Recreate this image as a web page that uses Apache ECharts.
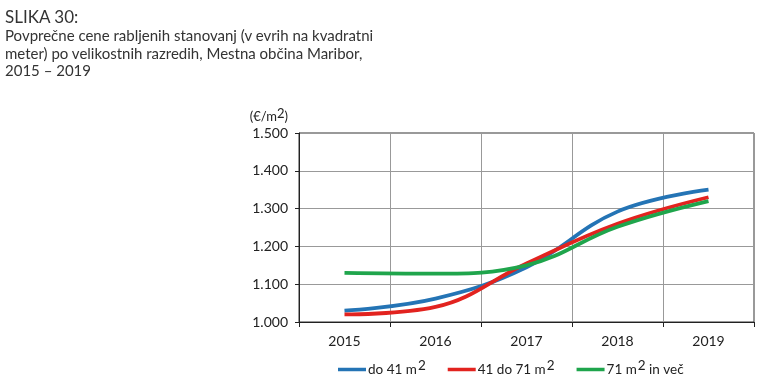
<!DOCTYPE html>
<html>
<head>
<meta charset="utf-8">
<script src="https://cdn.jsdelivr.net/npm/echarts@6/dist/echarts.min.js"></script>
<style>
html,body{margin:0;padding:0;background:#fff;}
#t{position:absolute;left:5px;top:6px;font-family:Lato,"Open Sans",sans-serif;color:#333;}
#t .h{font-size:17px;line-height:21px;}
#t .s{font-size:15px;line-height:17.5px;}
#c{position:absolute;left:0;top:0;width:768px;height:390px;}
</style>
</head>
<body>
<div id="c"></div>
<div id="t"><div class="h">SLIKA 30:</div><div class="s">Povprečne cene rabljenih stanovanj (v evrih na kvadratni<br>meter) po velikostnih razredih, Mestna občina Maribor,<br>2015 – 2019</div></div>
<script>
const years = ['2015','2016','2017','2018','2019'];
const seriesNames = ['do 41 m2','41 do 71 m2','71 m2 in več'];
const small = [1030, 1062, 1145, 1292, 1350];
const medium = [1020, 1040, 1155, 1260, 1330];
const large = [1130, 1128, 1150, 1252, 1320];
const colors = ['#2474b5','#e2231f','#1fa54c'];

const chart = echarts.init(document.getElementById('c'));
const fmtNum = v => (v/1000).toFixed(3);
const supFmt = name => {
  const parts = name.split('m2');
  return '{a|' + parts[0] + 'm}{s|2}' + (parts[1] ? '{a|' + parts[1] + '}' : '');
};
chart.setOption({
  animation:false,
  color: colors,
  grid:{left:299,right:14,top:133,bottom:68,show:true,borderColor:'#333',borderWidth:1},
  legend:{
    bottom:5,left:333,icon:'rect',itemWidth:28,itemHeight:3.5,itemGap:22,
    formatter: supFmt,
    textStyle:{padding:[0,0,0,-3],rich:{
      a:{fontFamily:'Lato',fontSize:13.5,color:'#222',lineHeight:18},
      s:{fontFamily:'Lato',fontSize:13.5,color:'#222',lineHeight:18,padding:[0,0,7,1]}
    }}
  },
  xAxis:{
    type:'category',data:years,boundaryGap:true,
    axisLine:{lineStyle:{color:'#222',width:1}},
    axisTick:{show:true,length:5,lineStyle:{color:'#222'}},
    axisLabel:{fontFamily:'Lato',fontSize:14,color:'#222',margin:12},
    splitLine:{show:true,lineStyle:{color:'#999',width:1}}
  },
  yAxis:{
    type:'value',min:1000,max:1500,interval:100,
    name:'{a|(€/m}{s|2}{a|)}',nameLocation:'end',nameGap:7,
    nameTextStyle:{align:'right',padding:[0,11,0,0],rich:{
      a:{fontFamily:'Lato',fontSize:13,color:'#222'},
      s:{fontFamily:'Lato',fontSize:13,color:'#222',padding:[0,0,6,0]}
    }},
    axisLine:{show:true,lineStyle:{color:'#222'}},
    axisTick:{show:true,length:4,lineStyle:{color:'#222'}},
    axisLabel:{fontFamily:'Lato',fontSize:14,color:'#222',margin:11,formatter:fmtNum},
    splitLine:{show:true,lineStyle:{color:'#999',width:1}}
  },
  series:[
    {name:seriesNames[0],type:'line',data:small,smooth:0.4,symbol:'none',lineStyle:{width:3.8}},
    {name:seriesNames[1],type:'line',data:medium,smooth:0.4,symbol:'none',lineStyle:{width:3.8}},
    {name:seriesNames[2],type:'line',data:large,smooth:0.4,symbol:'none',lineStyle:{width:3.8}}
  ]
});
</script>
</body>
</html>
